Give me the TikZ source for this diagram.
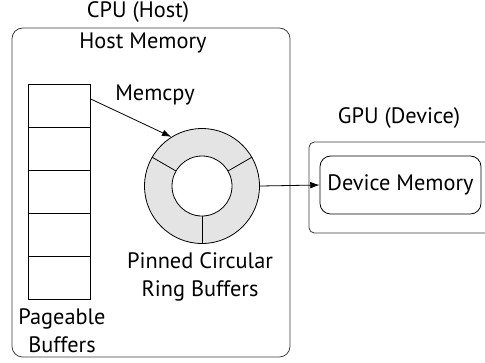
\documentclass[tikz,border=0pt]{standalone}
\usepackage{fontspec}
\setmainfont{PT Sans}
\usepackage{xcolor}
\definecolor{ringgray}{RGB}{228,228,228}
\definecolor{edgegray}{RGB}{60,60,60}
\usetikzlibrary{arrows.meta, positioning}

\tikzset{
  cell/.style={draw, minimum width=46.5pt, minimum height=32.25pt, inner sep=0pt},
  label/.style={align=center, inner sep=1pt},
  link/.style={-{Latex[length=7pt, width=5pt]}, line width=0.6pt}
}

\begin{document}
\begin{tikzpicture}[x=0.75pt, y=-0.75pt, line width=0.6pt, font=\fontsize{16.75}{21}\selectfont]
  \useasboundingbox (0,0) rectangle (485,362);

  % --- Host side ---
  \draw[edgegray, rounded corners=8pt] (12,28) rectangle (290,357);
  \node[label] (cpu) at (138,12) {CPU (Host)};
  \node[label] (hostmem) at (143,43) {Host Memory};

  % Pageable buffers (stack of cells)
  \foreach \i in {0,...,4}
    \node[cell] (buf\i) at (59,105.5+43*\i) {};
  \node[label] (pageable) at (62,331) {Pageable\\Buffers};

  % Pinned ring buffer
  \node[circle, draw, fill=ringgray, minimum size=86.25pt, inner sep=0pt] (ring) at (202,186) {};
  \node[circle, draw, fill=white, minimum size=45pt, inner sep=0pt] (hole) at (202,186) {};
  \foreach \a in {30,150,270}
    \draw (hole.\a) -- (ring.\a);
  \node[label] (pinned) at (200,277) {Pinned Circular\\Ring Buffers};

  % Memcpy
  \node[label] (memcpy) at (155,95) {Memcpy};
  \draw[link] ([yshift=5pt]buf0.east) -- (ring.122);

  % --- Device side ---
  \draw[edgegray, rounded corners=4pt] (309,142) rectangle (500,233);
  \node[label] (gpu) at (399,118) {GPU (Device)};
  \node[draw, rounded corners=8pt, minimum width=120.75pt, minimum height=43.5pt] (devmem) at (400.5,185) {Device Memory};

  \draw[link] (ring.east) -- (devmem.west);
\end{tikzpicture}
\end{document}
